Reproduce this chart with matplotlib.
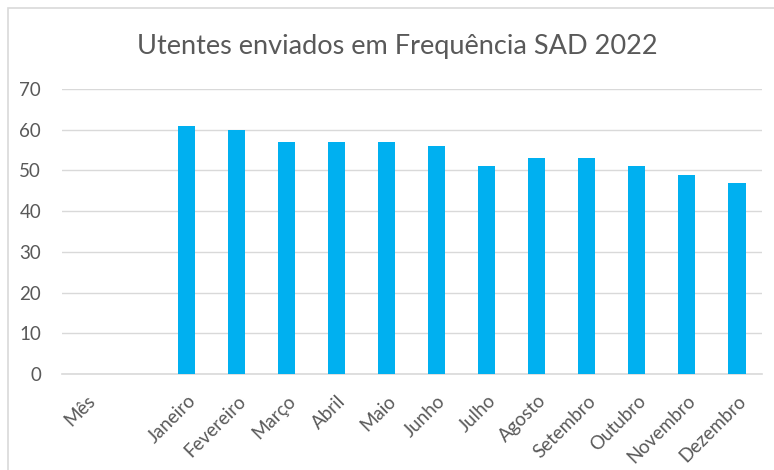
import matplotlib.pyplot as plt
from matplotlib.patches import Rectangle

categories = ["Mês", "", "Janeiro", "Fevereiro", "Março", "Abril", "Maio", "Junho",
              "Julho", "Agosto", "Setembro", "Outubro", "Novembro", "Dezembro"]
values = [None, None, 61, 60, 57, 57, 57, 56, 51, 53, 53, 51, 49, 47]
y_ticks = [0, 10, 20, 30, 40, 50, 60, 70]

TEXT_COLOR = "#595959"
GRID_COLOR = "#d9d9d9"
BAR_COLOR = "#00b0f0"

plt.rcParams["font.family"] = ["Lato", "DejaVu Sans"]

fig = plt.figure(figsize=(7.74, 4.70), dpi=100)
ax = fig.add_axes([0.080, 0.2043, 0.9045, 0.6063])

# chart border like the Excel chart area
fig.add_artist(Rectangle((8 / 774, -0.05), 1.0, 1.05 - 8 / 470,
                         transform=fig.transFigure, fill=False,
                         edgecolor=GRID_COLOR, linewidth=1.2))

xs = [i for i, v in enumerate(values) if v is not None]
hs = [v for v in values if v is not None]
ax.bar(xs, hs, width=0.34, color=BAR_COLOR, zorder=3)

ax.set_xlim(-0.5, len(categories) - 0.5)
ax.set_ylim(0, 70)
ax.set_yticks(y_ticks)
ax.set_xticks(range(len(categories)))
ax.set_xticklabels(categories, rotation=45, ha="right", va="top",
                   rotation_mode="anchor")

ax.tick_params(axis="both", length=0, colors=TEXT_COLOR, labelsize=13.5)
ax.tick_params(axis="y", pad=15)
ax.tick_params(axis="x", pad=13)
ax.grid(axis="y", color=GRID_COLOR, linewidth=1.0, zorder=0)
for side in ["top", "right", "left"]:
    ax.spines[side].set_visible(False)
ax.spines["bottom"].set_color(GRID_COLOR)
ax.spines["bottom"].set_linewidth(1.2)

fig.text(0.513, 0.902, "Utentes enviados em Frequência SAD 2022",
         ha="center", va="center", fontsize=19.5, color=TEXT_COLOR)

fig.savefig("out.png", dpi=100)
